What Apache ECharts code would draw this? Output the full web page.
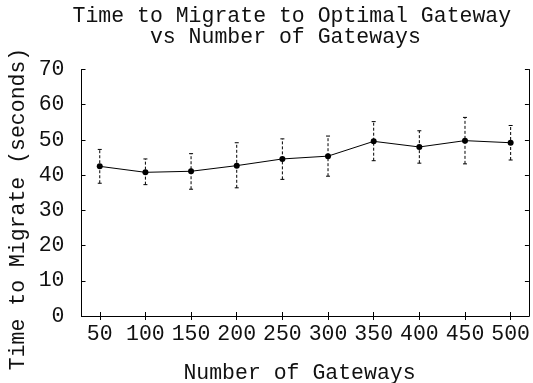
<!DOCTYPE html>
<html>
<head>
<meta charset="utf-8">
<script src="https://cdn.jsdelivr.net/npm/echarts@6/dist/echarts.min.js"></script>
<style>
  html, body { margin: 0; padding: 0; background: #fff; }
  #chart { width: 533px; height: 383px; }
</style>
</head>
<body>
<div id="chart"></div>
<script>
// number of gateways
const gateways = [50, 100, 150, 200, 250, 300, 350, 400, 450, 500]
// mean migration time (s) and error bar bounds
const meanTime = [42.5, 40.8, 41.1, 42.7, 44.6, 45.4, 49.6, 48.0, 49.8, 49.2]
const lowTime  = [37.7, 37.3, 36.0, 36.4, 38.8, 39.7, 44.1, 43.4, 43.2, 44.3]
const highTime = [47.3, 44.6, 46.1, 49.2, 50.3, 51.1, 55.2, 52.6, 56.4, 54.1]

const FONT = 'Liberation Mono'
const FS = 21.5

const chart = echarts.init(document.getElementById('chart'))

const lineData = gateways.map((g, i) => [g, meanTime[i]])
const errData = gateways.map((g, i) => [g, lowTime[i], highTime[i]])

const frameLine = { show: true, lineStyle: { color: '#000', width: 1 } }
const inTick = { show: true, inside: true, length: 4, lineStyle: { color: '#000', width: 1 } }

chart.setOption({
  animation: false,
  backgroundColor: '#fff',
  textStyle: { fontFamily: FONT },
  grid: { left: 81.5, right: 1.5, top: 69.5, bottom: 67 },
  xAxis: [
    {
      type: 'value', min: 30, max: 520, position: 'bottom',
      axisLine: frameLine,
      axisTick: Object.assign({}, inTick, { customValues: gateways }),
      axisLabel: { customValues: gateways, margin: 7, color: '#111', fontFamily: FONT, fontSize: FS },
      splitLine: { show: false }
    },
    {
      type: 'value', min: 30, max: 520, position: 'top',
      axisLine: frameLine,
      axisTick: Object.assign({}, inTick, { customValues: gateways }),
      axisLabel: { show: false },
      splitLine: { show: false }
    }
  ],
  yAxis: [
    {
      type: 'value', min: 0, max: 70, interval: 10, position: 'left',
      axisLine: frameLine,
      axisTick: inTick,
      axisLabel: { margin: 17, color: '#111', fontFamily: FONT, fontSize: FS, padding: [6, 0, 0, 0] },
      splitLine: { show: false }
    },
    {
      type: 'value', min: 0, max: 70, interval: 10, position: 'right',
      axisLine: frameLine,
      axisTick: inTick,
      axisLabel: { show: false },
      splitLine: { show: false }
    }
  ],
  graphic: [
    {
      type: 'text', left: 293.5 - 17 * 13, top: 5,
      style: {
        text: 'Time to Migrate to Optimal Gateway\n      vs Number of Gateways',
        font: FS + 'px "' + FONT + '"', fill: '#111', lineHeight: 21
      }
    },
    {
      type: 'text', x: 299.5, y: 373.5,
      style: {
        text: 'Number of Gateways', font: FS + 'px "' + FONT + '"', fill: '#111',
        align: 'center', verticalAlign: 'middle'
      }
    },
    {
      type: 'text', x: 18, y: 209, rotation: Math.PI / 2,
      style: {
        text: 'Time to Migrate (seconds)', font: FS + 'px "' + FONT + '"', fill: '#111',
        align: 'center', verticalAlign: 'middle'
      }
    }
  ],
  series: [
    {
      type: 'custom',
      data: errData,
      z: 1,
      renderItem: function (params, api) {
        const x = api.value(0)
        const lo = api.coord([x, api.value(1)])
        const hi = api.coord([x, api.value(2)])
        const cap = 2
        const st = { stroke: '#000', lineWidth: 1 }
        return {
          type: 'group',
          children: [
            { type: 'line', shape: { x1: lo[0], y1: lo[1], x2: hi[0], y2: hi[1] },
              style: Object.assign({ lineDash: [3, 2] }, st) },
            { type: 'line', shape: { x1: lo[0] - cap, y1: lo[1], x2: lo[0] + cap, y2: lo[1] }, style: st },
            { type: 'line', shape: { x1: hi[0] - cap, y1: hi[1], x2: hi[0] + cap, y2: hi[1] }, style: st }
          ]
        }
      }
    },
    {
      type: 'line',
      data: lineData,
      z: 2,
      symbol: 'circle',
      symbolSize: 6,
      itemStyle: { color: '#000' },
      lineStyle: { color: '#000', width: 1 }
    }
  ]
})
</script>
</body>
</html>
